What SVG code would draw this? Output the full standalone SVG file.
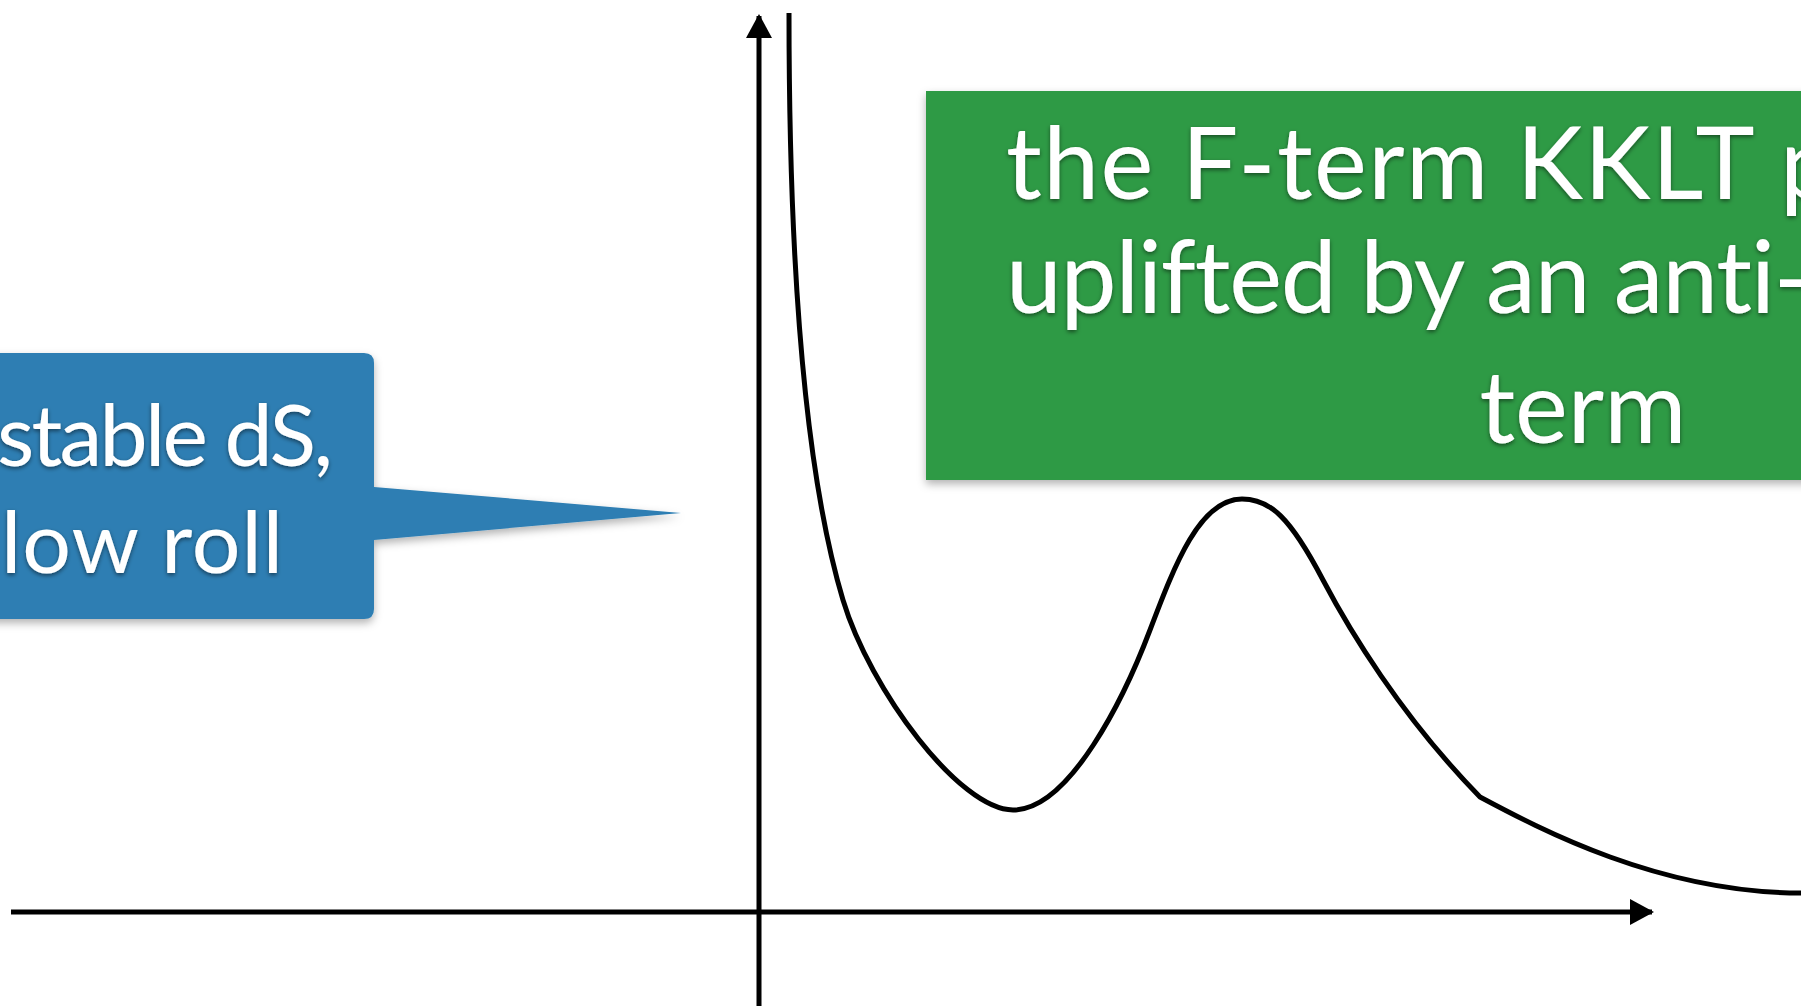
<svg xmlns="http://www.w3.org/2000/svg" width="1801" height="1006" viewBox="0 0 1801 1006">
  <style>
    .axis { fill: none; stroke: #000; stroke-width: 5; }
    .curve { fill: none; stroke: #000; stroke-width: 5; stroke-linejoin: round; }
    .label { font-family: Lato, "Open Sans", "Liberation Sans", sans-serif; fill: #fff; filter: url(#textShadow); font-variant-ligatures: none; font-feature-settings: "liga" 0, "clig" 0; }
  </style>
  <defs>
    <marker id="arrow" markerUnits="userSpaceOnUse" markerWidth="26" markerHeight="26" viewBox="0 0 24 26" refX="22" refY="13" orient="auto">
      <path d="M0,0 L24,13 L0,26 Z" fill="#000"/>
    </marker>
    <filter id="boxShadow" x="-10%" y="-10%" width="120%" height="130%">
      <feDropShadow dx="0" dy="4" stdDeviation="4" flood-color="#000" flood-opacity="0.3"/>
    </filter>
    <filter id="textShadow" x="-5%" y="-20%" width="110%" height="150%">
      <feDropShadow dx="0" dy="2" stdDeviation="2" flood-color="#000" flood-opacity="0.5"/>
    </filter>
  </defs>

  <rect width="1801" height="1006" fill="#fff"/>

  <g id="connectors">
    <line id="x-axis" class="axis" x1="11" y1="912" x2="1652" y2="912" marker-end="url(#arrow)"/>
    <line id="y-axis" class="axis" x1="759" y1="1006" x2="759" y2="16" marker-end="url(#arrow)"/>
    <path id="potential" class="curve" d="M789,13 C789,213 798,450 843,600 C870,690 960,810 1013,810 C1070,810 1125,696 1150,630 C1175,564 1200,499 1242,499 C1270,499 1290,517 1323,580 C1348,627.5 1400,715 1480,797 C1540,829 1660,893 1801,893 L1810,893"/>
  </g>

  <g id="node-blue-callout">
    <path d="M-20,353 H364 Q374,353 374,363 V487 L681,513 L374,540 V609 Q374,619 364,619 H-20 Z" fill="#2d7eb3" filter="url(#boxShadow)"/>
    <text class="label" font-size="86" x="-3" y="466" textLength="336">stable dS,</text>
    <text class="label" font-size="86" x="1" y="573" textLength="282">low roll</text>
  </g>

  <g id="node-green-box">
    <rect x="926" y="91" width="900" height="389" fill="#2f9a44" filter="url(#boxShadow)"/>
    <text class="label" font-size="100" x="1006" y="199" textLength="830">the F-term KKLT p</text>
    <text class="label" font-size="100" x="1006" y="313" textLength="805">uplifted by an anti-</text>
    <text class="label" font-size="100" text-anchor="middle" x="1583" y="443">term</text>
  </g>
</svg>
